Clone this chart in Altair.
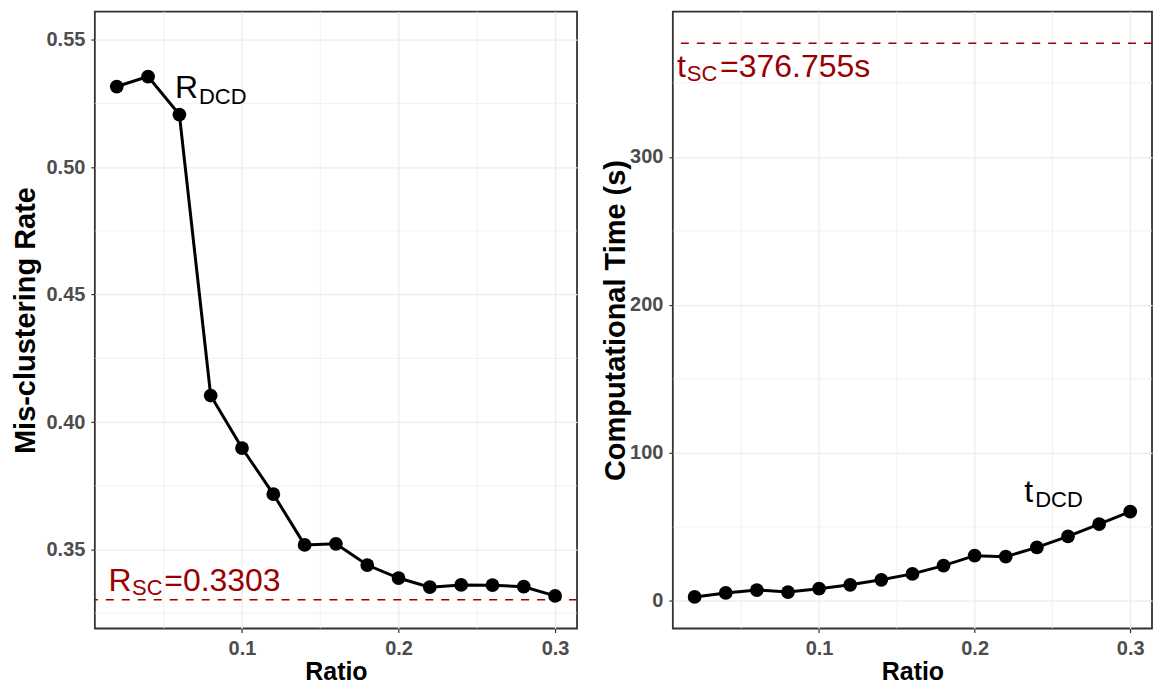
import altair as alt
import pandas as pd

# ---------------- data ----------------
ratio = [0.02, 0.04, 0.06, 0.08, 0.10, 0.12, 0.14, 0.16, 0.18, 0.20, 0.22, 0.24, 0.26, 0.28, 0.30]
mis_rate = [0.5316, 0.5355, 0.5206, 0.4104, 0.3898, 0.3717, 0.3518, 0.3522,
            0.3439, 0.3388, 0.3352, 0.3361, 0.3360, 0.3354, 0.3318]
comp_time = [2.7, 5.4, 7.4, 6.0, 8.3, 10.9, 14.3, 18.3, 23.9, 30.6, 29.9, 36.2, 43.6, 51.9, 60.4]
r_sc = 0.3303
t_sc = 376.755

x_ticks = [0.1, 0.2, 0.3]
x_minor = [0.05, 0.15, 0.25]
left_ticks_y = [0.35, 0.40, 0.45, 0.50, 0.55]
left_minor_y = [0.325, 0.375, 0.425, 0.475, 0.525]
right_ticks_y = [0, 100, 200, 300]
right_minor_y = [50, 150, 250, 350]

x_domain = [0.006, 0.314]
left_y_domain = [0.319, 0.561]
right_y_domain = [-18.6, 398.2]

# annotation anchors (data coordinates)
r_dcd_pos = [0.0572, 0.527]
r_sc_pos = [0.0148, 0.3336]
t_sc_pos = [0.0086, 353.9]
t_dcd_pos = [0.2319, 67.1]

FONT = "Liberation Sans"
RED = "#990000"
PANEL_H = 618


def panel(values, y_domain, y_ticks, y_minor, y_fmt, y_title, title_pad, h_value, labels, width):
    X = alt.X("ratio:Q",
              scale=alt.Scale(domain=x_domain, nice=False, zero=False),
              axis=alt.Axis(values=x_ticks, format=".1f", title="Ratio",
                            labelFlush=False, labelOverlap=False))
    Y = alt.Y("val:Q",
              scale=alt.Scale(domain=y_domain, nice=False, zero=False),
              axis=alt.Axis(values=y_ticks, format=y_fmt, title=y_title,
                            titlePadding=title_pad, labelOverlap=False))

    minor_x = alt.Chart(pd.DataFrame({"ratio": x_minor})).mark_rule(
        color="#EBEBEB", strokeWidth=0.7).encode(x=X)
    minor_y = alt.Chart(pd.DataFrame({"val": y_minor})).mark_rule(
        color="#EBEBEB", strokeWidth=0.7).encode(y=Y)
    hline = alt.Chart(pd.DataFrame({"val": [h_value]})).mark_rule(
        color=RED, strokeWidth=1.5, strokeDash=[8, 8]).encode(y=Y)

    df = pd.DataFrame({"ratio": ratio, "val": values})
    line = alt.Chart(df).mark_line(color="black", strokeWidth=3).encode(x=X, y=Y)
    pts = alt.Chart(df).mark_circle(color="black", opacity=1, size=190).encode(x=X, y=Y)

    layers = [minor_x, minor_y, hline, line, pts]
    for (px, py, txt, size, color, dx, dy) in labels:
        layers.append(
            alt.Chart(pd.DataFrame({"ratio": [px], "val": [py], "t": [txt]})).mark_text(
                align="left", baseline="alphabetic", font=FONT, fontSize=size,
                color=color, dx=dx, dy=dy).encode(x=X, y=Y, text="t:N"))
    return alt.layer(*layers).properties(width=width, height=PANEL_H)


left_labels = [
    (r_dcd_pos[0], r_dcd_pos[1], "R", 32, "black", 0, 0),
    (r_dcd_pos[0], r_dcd_pos[1], "DCD", 22, "black", 24, 6),
    (r_sc_pos[0], r_sc_pos[1], "R", 32, RED, 0, 0),
    (r_sc_pos[0], r_sc_pos[1], "SC", 22, RED, 23.4, 4),
    (r_sc_pos[0], r_sc_pos[1], f"={r_sc}", 32, RED, 55.7, 0),
]
right_labels = [
    (t_sc_pos[0], t_sc_pos[1], "t", 32, RED, 0, 0),
    (t_sc_pos[0], t_sc_pos[1], "SC", 22, RED, 10, 4),
    (t_sc_pos[0], t_sc_pos[1], f"={t_sc}s", 32, RED, 43.3, 0),
    (t_dcd_pos[0], t_dcd_pos[1], "t", 32, "black", 0, 0),
    (t_dcd_pos[0], t_dcd_pos[1], "DCD", 22, "black", 11, 5),
]

left = panel(mis_rate, left_y_domain, left_ticks_y, left_minor_y, ".2f",
             "Mis-clustering Rate", 6, r_sc, left_labels, 483)
right = panel(comp_time, right_y_domain, right_ticks_y, right_minor_y, "d",
              "Computational Time (s)", -1, t_sc, right_labels, 480)

chart = alt.hconcat(left, right, spacing=21).properties(
    padding={"left": 2, "top": 1, "right": 0, "bottom": 0}
).configure_view(
    stroke="#333333", strokeWidth=1.8
).configure_axis(
    labelFont=FONT, labelFontSize=20, labelFontWeight="bold", labelColor="#4D4D4D",
    labelPadding=6, titleFont=FONT, titleFontWeight="bold", titleColor="black",
    tickColor="#333333", tickSize=4, tickWidth=1.2, domain=False,
    gridColor="#EBEBEB", gridWidth=1.2
).configure_axisX(
    titleFontSize=25, titlePadding=1
).configure_axisY(
    titleFontSize=29
)

chart.save("out.html", embed_options={"renderer": "svg", "actions": False})
